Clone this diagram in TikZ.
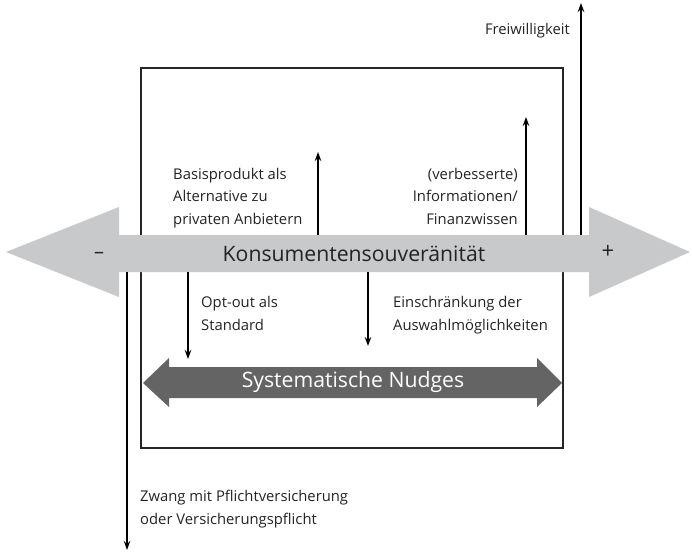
\documentclass[tikz,border=0pt]{standalone}
\usepackage{fontspec}
\setmainfont{Open Sans}
\usetikzlibrary{arrows.meta}
\definecolor{lightarrow}{RGB}{200,201,203}
\definecolor{darkarrow}{RGB}{100,100,100}
\definecolor{txt}{RGB}{35,35,35}
\begin{document}
\begin{tikzpicture}[x=1pt,y=-1pt,
  lbl/.style={font=\fontsize{14.8}{22.5}\selectfont, text=txt, inner sep=0pt},
  biglbl/.style={font=\fontsize{21.2}{24}\selectfont, inner sep=0pt},
  conn/.style={line width=1.5pt, -{Stealth[length=9pt,width=6.5pt]}},
  frame/.style={draw=black!85, line width=1.2pt}]
\useasboundingbox (0,0) rectangle (692,551);
% frame
\draw[frame] (141,68) rectangle (563,448);
% big gray double arrow
\fill[lightarrow] (6,252) -- (119,207) -- (119,235) -- (589,235) -- (589,207) -- (690,252)
  -- (589,297) -- (589,272) -- (119,272) -- (119,297) -- cycle;
\node[biglbl, text=txt] (ks) at (354,254) {Konsumentensouveränität};
\node[lbl, font=\fontsize{20}{22}\selectfont] (minus) at (99,255) {–};
\node[lbl, font=\fontsize{22}{24}\selectfont] (plus) at (608,252) {+};
% dark double arrow
\fill[darkarrow] (143,383) -- (169,358) -- (169,367) -- (537,367) -- (537,358) -- (562,383)
  -- (537,407) -- (537,398) -- (169,398) -- (169,407) -- cycle;
\node[biglbl, text=white] (sn) at (353,382) {Systematische Nudges};
% coordinates for connectors
\coordinate (fwA) at (581,235); \coordinate (fwB) at (581,3);
\coordinate (inA) at (526,235); \coordinate (inB) at (526,117);
\coordinate (bpA) at (318,235); \coordinate (bpB) at (318,152);
\coordinate (ooA) at (188,272); \coordinate (ooB) at (188,359);
\coordinate (esA) at (368,272); \coordinate (esB) at (368,346);
\coordinate (zwA) at (127,272); \coordinate (zwB) at (127,550);
\draw[conn] (fwA) -- (fwB);
\draw[conn] (inA) -- (inB);
\draw[conn] (bpA) -- (bpB);
\draw[conn] (ooA) -- (ooB);
\draw[conn] (esA) -- (esB);
\draw[conn] (zwA) -- (zwB);
% labels (base anchor = baseline of last line)
\node[lbl, anchor=base east] (fw) at (570,35) {Freiwilligkeit};
\node[lbl, anchor=base west, align=left] (bp) at (173,224) {Basisprodukt als\\Alternative zu\\privaten Anbietern};
\node[lbl, anchor=base east, align=right] (inf) at (518,224) {(verbesserte)\\Informationen/\\Finanzwissen};
\node[lbl, anchor=base west, align=left] (oo) at (201,330) {Opt-out als\\Standard};
\node[lbl, anchor=base west, align=left] (es) at (393,330) {Einschränkung der\\Auswahlmöglichkeiten};
\node[lbl, anchor=base west, align=left] (zw) at (140,524) {Zwang mit Pflichtversicherung\\oder Versicherungspflicht};
\end{tikzpicture}
\end{document}
